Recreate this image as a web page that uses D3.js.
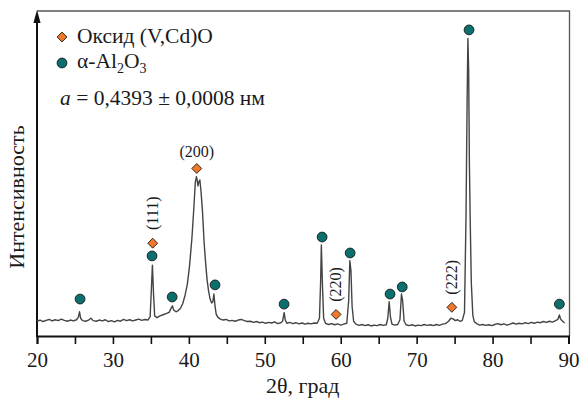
<!DOCTYPE html>
<html>
<head>
<meta charset="utf-8">
<script src="https://cdn.jsdelivr.net/npm/d3@7"></script>
</head>
<body style="margin:0;background:#fff">
<div id="chart"></div>
<script>
// XRD pattern: 2theta (deg) and intensity (arb. units)
var twoTheta = [20.0,20.4,20.8,21.2,21.6,22.0,22.4,22.8,23.2,23.6,24.0,24.4,24.8,25.2,25.45,25.6,25.75,26.0,26.4,26.8,27.1,27.4,27.8,28.2,28.6,29.0,29.4,29.8,
  30.2,30.6,31.0,31.4,31.8,32.2,32.6,33.0,33.4,33.8,34.2,34.6,34.9,35.05,35.2,35.35,35.5,35.8,36.2,36.6,37.0,37.4,37.7,37.85,38.0,38.3,38.6,38.9,
  39.2,39.5,39.8,40.1,40.4,40.65,40.85,41.0,41.12,41.2,41.3,41.45,41.6,41.8,42.0,42.2,42.4,42.6,42.8,43.0,43.15,43.3,43.45,43.6,43.8,44.1,44.5,
  44.9,45.3,45.7,46.1,46.5,46.9,47.3,47.7,48.1,48.5,48.9,49.3,49.7,50.1,50.5,50.9,51.3,51.7,52.1,52.35,52.55,52.7,52.9,53.3,53.7,54.1,54.5,54.9,
  55.3,55.7,56.1,56.5,56.9,57.2,57.35,57.45,57.6,57.75,58.0,58.4,58.8,59.2,59.6,60.0,60.4,60.8,61.05,61.2,61.35,61.5,61.7,62.0,62.4,62.8,63.2,
  63.6,64.0,64.4,64.8,65.2,65.6,66.0,66.2,66.38,66.55,66.75,67.1,67.5,67.8,68.0,68.15,68.35,68.6,69.0,69.4,69.8,70.2,70.6,71.0,71.4,71.8,72.2,
  72.6,73.0,73.4,73.8,74.2,74.5,74.8,75.1,75.4,75.7,76.0,76.3,76.5,76.65,76.75,76.85,76.95,77.05,77.2,77.4,77.6,77.9,78.3,78.7,79.1,79.5,79.9,
  80.3,80.7,81.1,81.5,81.9,82.3,82.7,83.1,83.5,83.9,84.3,84.7,85.1,85.5,85.9,86.3,86.7,87.1,87.5,87.9,88.3,88.6,88.8,88.95,89.1,89.3,89.5];
var intensity = [5.0,5.4,4.9,5.3,5.6,5.1,5.5,5.2,5.7,5.3,5.0,5.4,5.1,5.5,6.4,8.2,6.0,5.2,5.0,5.4,6.0,5.2,5.0,5.4,5.1,5.5,4.9,5.2,
  4.8,5.3,5.0,5.6,5.2,5.5,5.1,5.4,5.7,5.3,5.6,5.4,6.5,15.0,24.0,14.0,6.8,6.2,6.8,7.2,7.6,8.0,9.6,10.2,8.8,8.2,8.6,9.4,
  11.0,13.8,17.5,24.0,33.0,43.0,52.0,53.9,52.4,50.8,52.0,52.8,49.0,42.0,32.0,25.0,19.0,15.2,12.5,11.2,11.5,14.2,10.0,7.4,6.4,5.8,5.4,
  5.6,5.1,5.3,5.0,5.4,5.6,5.2,4.9,5.0,4.6,4.9,4.5,4.7,4.3,4.6,4.4,4.8,4.2,4.5,5.0,7.9,5.4,4.3,4.6,4.2,4.5,4.1,4.4,
  4.0,4.3,4.1,4.4,4.3,6.0,18.0,30.8,17.0,6.0,4.3,3.9,4.2,3.8,4.1,3.7,4.0,4.3,12.0,25.5,22.0,10.0,5.0,4.0,3.6,3.9,3.5,
  3.8,3.4,3.7,3.5,3.9,3.6,3.8,6.0,11.6,6.5,4.0,3.7,3.9,5.5,14.2,12.0,5.0,3.8,3.5,3.8,3.4,3.7,3.5,3.9,3.6,3.8,3.5,
  3.9,3.6,4.0,4.2,5.0,6.0,5.8,5.2,5.5,5.0,5.2,8.0,40.0,80.0,100.7,90.0,58.0,40.0,18.0,7.0,4.8,4.2,3.7,3.9,3.6,3.8,3.5,
  3.9,4.2,3.8,4.1,3.7,4.0,4.4,4.0,4.3,4.1,4.5,4.2,4.6,4.3,4.7,4.5,4.9,4.6,5.0,4.7,5.2,5.6,7.1,5.8,5.3,4.8,4.4];

// phase markers
var oxideTheta = [35.24, 41.04, 59.39, 74.64];
var oxideI = [31.4, 56.7, 7.3, 9.7];
var oxideHkl = ["(111)", "(200)", "(220)", "(222)"];
var aluminaTheta = [25.67, 35.15, 37.8, 43.45, 52.54, 57.55, 61.24, 66.5, 68.1, 76.9, 88.8];
var aluminaI = [12.5, 27.1, 13.2, 17.3, 10.8, 33.5, 28.1, 14.2, 16.6, 103.6, 10.8];

var xTicks = [20, 30, 40, 50, 60, 70, 80, 90];
var xMinorTicks = [20, 25, 30, 35, 40, 45, 50, 55, 60, 65, 70, 75, 80, 85, 90];

var width = 581, height = 398;
var orange = "#f07828", teal = "#0b6f6e";
var serif = "Liberation Serif";

var svg = d3.select("#chart").append("svg")
  .attr("width", width)
  .attr("height", height);

var x = d3.scaleLinear().domain([20, 90]).range([37, 568.5]);
var y = d3.scaleLinear().domain([0, 110]).range([336, 11]);

// frame: top and right in gray
svg.append("path")
  .attr("d", "M" + x(20) + "," + y(110) + "H" + (x(90) + 1) + "V" + y(0))
  .attr("fill", "none")
  .attr("stroke", "#555")
  .attr("stroke-width", 1.3);

// x axis
var xAxis = d3.axisBottom(x).tickValues(xMinorTicks).tickSize(8)
  .tickFormat(function(d) { return xTicks.indexOf(d) >= 0 ? d : ""; });
var gx = svg.append("g").attr("transform", "translate(0," + y(0) + ")").call(xAxis)
  .attr("font-family", serif).attr("font-size", 21);
gx.select(".domain").attr("stroke", "#111").attr("stroke-width", 2);
gx.selectAll(".tick line").attr("stroke", "#111").attr("stroke-width", 1.6);
gx.selectAll(".tick text").attr("y", 16).attr("fill", "#1a1a1a");

// y axis with arrow
svg.append("line")
  .attr("x1", x(20)).attr("x2", x(20))
  .attr("y1", y(0) + 1).attr("y2", 18)
  .attr("stroke", "#111").attr("stroke-width", 2);
svg.append("path")
  .attr("d", "M" + x(20) + ",10 L" + (x(20) - 3.6) + ",23 L" + (x(20) + 3.6) + ",23 Z")
  .attr("fill", "#111");

// pattern
var pts = twoTheta.map(function(t, i) { return { t: t, v: intensity[i] }; });
var line = d3.line()
  .x(function(d) { return x(d.t); })
  .y(function(d) { return y(d.v); });
svg.append("path")
  .attr("d", line(pts))
  .attr("fill", "none")
  .attr("stroke", "#444")
  .attr("stroke-width", 1.4)
  .attr("stroke-linejoin", "round");

var diamond = d3.symbol().type(d3.symbolDiamond2).size(62);

// alumina circles
svg.selectAll(".al").data(aluminaTheta).enter().append("circle")
  .attr("cx", function(d) { return x(d); })
  .attr("cy", function(d, i) { return y(aluminaI[i]); })
  .attr("r", 4.9)
  .attr("fill", teal)
  .attr("stroke", "#1a1a1a")
  .attr("stroke-width", 0.9);

// oxide diamonds
svg.selectAll(".ox").data(oxideTheta).enter().append("path")
  .attr("d", diamond)
  .attr("transform", function(d, i) { return "translate(" + x(d) + "," + y(oxideI[i]) + ")"; })
  .attr("fill", orange)
  .attr("stroke", "#1a1a1a")
  .attr("stroke-width", 0.9);

// hkl labels
oxideHkl.forEach(function(lbl, i) {
  var px = x(oxideTheta[i]), py = y(oxideI[i]);
  var t = svg.append("text")
    .attr("font-family", serif).attr("font-size", 16)
    .attr("fill", "#1a1a1a")
    .attr("text-anchor", "middle")
    .text(lbl);
  if (lbl === "(200)") {
    t.attr("x", px).attr("y", py - 11);
  } else {
    t.attr("transform", "translate(" + (px + 5) + "," + (py - 30) + ") rotate(-90)");
  }
});

// legend
svg.append("path").attr("d", diamond)
  .attr("transform", "translate(62,37)")
  .attr("fill", orange).attr("stroke", "#1a1a1a").attr("stroke-width", 0.9);
svg.append("text").attr("x", 77).attr("y", 43)
  .attr("font-family", serif).attr("font-size", 21.5).attr("fill", "#1a1a1a")
  .text("Оксид (V,Cd)O");
svg.append("circle").attr("cx", 62).attr("cy", 63).attr("r", 4.9)
  .attr("fill", teal).attr("stroke", "#1a1a1a").attr("stroke-width", 0.9);
var al = svg.append("text").attr("x", 77).attr("y", 68)
  .attr("font-family", serif).attr("font-size", 21.5).attr("fill", "#1a1a1a");
al.append("tspan").text("α-Al");
al.append("tspan").attr("dy", 5).attr("font-size", 14).text("2");
al.append("tspan").attr("dy", -5).text("O");
al.append("tspan").attr("dy", 5).attr("font-size", 14).text("3");

var lat = svg.append("text").attr("x", 60).attr("y", 105)
  .attr("font-family", serif).attr("font-size", 21.5).attr("fill", "#1a1a1a");
lat.append("tspan").attr("font-style", "italic").text("a");
lat.append("tspan").text(" = 0,4393 ± 0,0008 нм");

// axis titles
svg.append("text")
  .attr("x", (x(20) + x(90)) / 2).attr("y", 393)
  .attr("text-anchor", "middle")
  .attr("font-family", serif).attr("font-size", 22).attr("fill", "#1a1a1a")
  .text("2θ, град");
svg.append("text")
  .attr("transform", "translate(24,197) rotate(-90)")
  .attr("text-anchor", "middle")
  .attr("font-family", serif).attr("font-size", 22).attr("fill", "#1a1a1a")
  .text("Интенсивность");
</script>
</body>
</html>
